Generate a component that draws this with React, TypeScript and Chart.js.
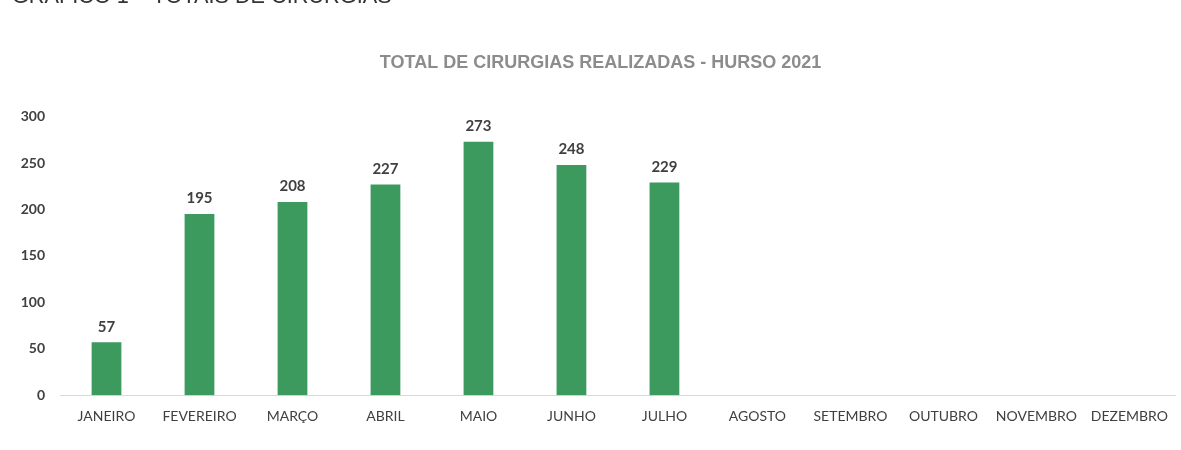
import React, { useEffect, useRef } from "react";
import { Chart, registerables } from "chart.js";

Chart.register(...registerables);

const months = [
  "JANEIRO", "FEVEREIRO", "MARÇO", "ABRIL", "MAIO", "JUNHO",
  "JULHO", "AGOSTO", "SETEMBRO", "OUTUBRO", "NOVEMBRO", "DEZEMBRO",
];
const cirurgias: (number | null)[] = [57, 195, 208, 227, 273, 248, 229, null, null, null, null, null];
const yTicks = [0, 50, 100, 150, 200, 250, 300];

const chartTitle = "TOTAL DE CIRURGIAS REALIZADAS - HURSO 2021";
const headerText = "GRÁFICO 1 – TOTAIS DE CIRURGIAS";

const tickFont = "Lato, 'Open Sans', sans-serif";

const valueLabels = {
  id: "valueLabels",
  afterDatasetsDraw(chart: any) {
    const ctx = chart.ctx;
    const meta = chart.getDatasetMeta(0);
    ctx.save();
    ctx.font = `bold 15px ${tickFont}`;
    ctx.fillStyle = "#404040";
    ctx.textAlign = "center";
    ctx.textBaseline = "bottom";
    meta.data.forEach((bar: any, i: number) => {
      const v = cirurgias[i];
      if (v == null) return;
      ctx.fillText(String(v), bar.x, bar.y - 8);
    });
    ctx.restore();
  },
};

export default function App() {
  const ref = useRef<HTMLCanvasElement | null>(null);

  useEffect(() => {
    document.body.style.margin = "0";
    const chart = new Chart(ref.current!, {
      type: "bar",
      data: {
        labels: months,
        datasets: [
          {
            data: cirurgias,
            backgroundColor: "#3c9a5f",
            barPercentage: 0.32,
            categoryPercentage: 1,
          },
        ],
      },
      options: {
        animation: false,
        responsive: false,
        maintainAspectRatio: false,
        layout: { padding: { left: 20, right: 0, top: 0, bottom: 12 } },
        plugins: {
          legend: { display: false },
          tooltip: { enabled: false },
          title: {
            display: true,
            text: chartTitle,
            color: "#8c8c8c",
            font: { family: "'Liberation Sans', Arial, sans-serif", size: 18, weight: "bold" },
            padding: { top: 52, bottom: 43 },
          },
        },
        scales: {
          x: {
            grid: { display: false, drawTicks: false },
            border: { display: true, color: "#d9d9d9", dash: [4, 2] },
            ticks: {
              color: "#404040",
              font: { family: tickFont, size: 14 },
              padding: 13,
              maxRotation: 0,
              autoSkip: false,
            },
          },
          y: {
            min: 0,
            max: 300,
            afterBuildTicks(scale: any) {
              scale.ticks = yTicks.map((v) => ({ value: v }));
            },
            afterFit(scale: any) {
              scale.width = 40;
            },
            grid: { display: false, drawTicks: false },
            border: { display: false },
            ticks: {
              color: "#404040",
              font: { family: tickFont, size: 14, weight: "bold" },
              padding: 15,
            },
          },
        },
      },
      plugins: [valueLabels],
    });
    return () => chart.destroy();
  }, []);

  return (
    <div style={{ position: "relative", width: 1181, height: 450, overflow: "hidden", background: "#fff" }}>
      <div
        style={{
          position: "absolute",
          left: 12,
          top: -16,
          fontFamily: "'Liberation Sans', Arial, sans-serif",
          fontSize: 21.7,
          lineHeight: "24px",
          color: "#333",
          whiteSpace: "nowrap",
        }}
      >
        {headerText}
      </div>
      <canvas ref={ref} width={1181} height={450} style={{ display: "block" }} />
    </div>
  );
}
